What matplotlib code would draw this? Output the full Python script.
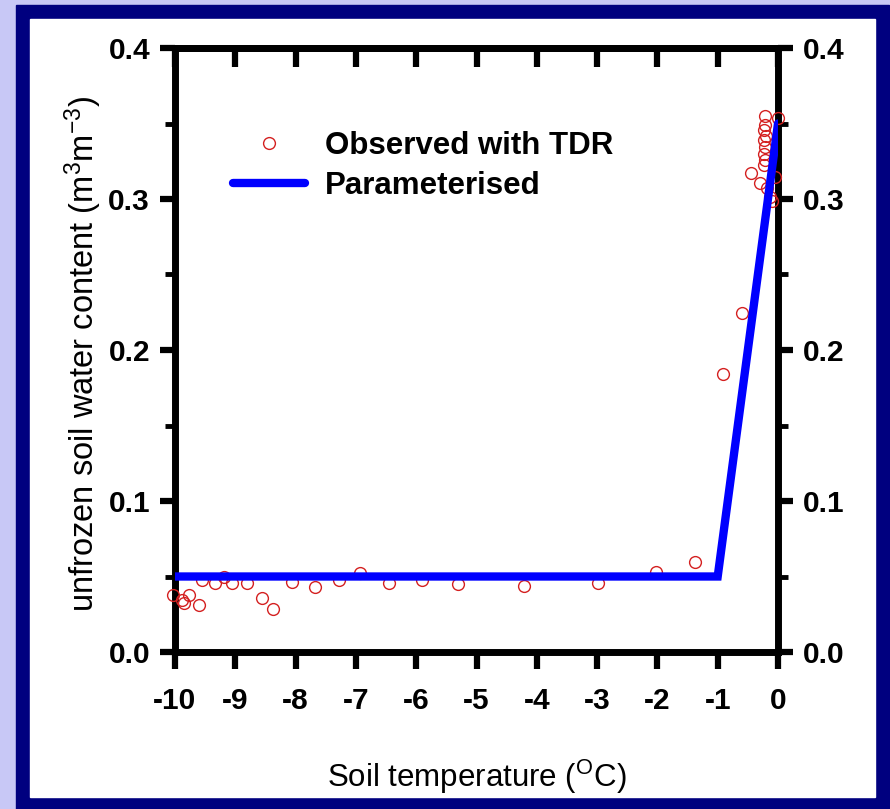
import numpy as np
import matplotlib.pyplot as plt
from matplotlib.patches import Rectangle
from matplotlib.ticker import MultipleLocator

plt.rcParams['font.family'] = ['Liberation Sans', 'DejaVu Sans']
plt.rcParams['axes.unicode_minus'] = False

# TDR observations (soil temperature degC, unfrozen water content m3/m3)
obs_t = [-10.03, -9.89, -9.85, -9.76, -9.61, -9.56, -9.34, -9.18, -9.06, -8.81,
         -8.56, -8.37, -8.06, -7.68, -7.28, -6.93, -6.45, -5.90, -5.31, -4.22,
         -2.98, -2.02, -1.38, -0.91, -0.59, -0.44, -0.22, -0.22, -0.24, -0.20,
         -0.24, -0.22, -0.23, -0.22, -0.24, -0.30, -0.18, -0.13, -0.105, -0.05,
         0.0]
obs_w = [0.0377, 0.0344, 0.0325, 0.0377, 0.031, 0.048, 0.0457, 0.0497, 0.0459, 0.0455,
         0.0356, 0.0283, 0.0461, 0.0432, 0.0477, 0.0521, 0.0455, 0.0477, 0.0448, 0.0439,
         0.0455, 0.0532, 0.0598, 0.1839, 0.2247, 0.3174, 0.355, 0.349, 0.3457, 0.342,
         0.339, 0.3347, 0.330, 0.326, 0.3225, 0.3104, 0.307, 0.3015, 0.299, 0.3147,
         0.3534]

# parameterised freezing curve
par_t = [-10, -1, 0]
par_w = [0.05, 0.05, 0.35]

fig = plt.figure(figsize=(8.9, 8.09), dpi=100)
fig.patch.set_facecolor('#c8c8f6')
fig.patches.append(Rectangle((16/890, 0), (889-16)/890, 1 - 5/809,
                             transform=fig.transFigure, color='#00007f', zorder=-2))
fig.patches.append(Rectangle((30/890, 12/809), (875-30)/890, (790-12)/809,
                             transform=fig.transFigure, color='white', zorder=-1))

ax = fig.add_axes([175/890, 1 - 652/809, (778-175)/890, (652-48)/809])
ax.set_facecolor('white')

ax.plot(obs_t, obs_w, 'o', mfc='none', mec='#d42020', mew=1.0, ms=8.5,
        clip_on=False, zorder=3, label='Observed with TDR')
ax.plot(par_t, par_w, '-', color='#0000ff', lw=6, solid_joinstyle='miter',
        solid_capstyle='round', zorder=4, label='Parameterised')

ax.set_xlim(-10, 0)
ax.set_ylim(0, 0.4)
ax.xaxis.set_major_locator(MultipleLocator(1))
ax.yaxis.set_major_locator(MultipleLocator(0.1))
ax.yaxis.set_minor_locator(MultipleLocator(0.05))
ax.set_yticklabels([f'{v:.1f}' for v in ax.get_yticks()])

for s in ax.spines.values():
    s.set_linewidth(5)

ax.tick_params(axis='x', direction='out', length=12, width=4.5, pad=13,
               labelsize=21.5, bottom=True, top=False)
ax.tick_params(axis='y', which='major', direction='out', length=11, width=4.5, pad=7,
               labelsize=21.5, left=True, right=True, labelleft=True, labelright=True)
ax.tick_params(axis='y', which='minor', direction='out', length=7, width=3.5,
               left=True, right=True)
for lab in ax.get_xticklabels() + ax.get_yticklabels():
    lab.set_fontweight('bold')

top = ax.secondary_xaxis('top')
top.xaxis.set_major_locator(MultipleLocator(1))
top.tick_params(direction='in', length=14, width=4.5, labeltop=False)
top.spines['top'].set_linewidth(5)

ax.set_xlabel('Soil temperature ($\\mathregular{^{O}}$C)', fontsize=22.5)
ax.xaxis.set_label_coords(0.5, -0.175)
ax.set_ylabel('unfrozen soil water content (m$\\mathregular{^{3}}$m$\\mathregular{^{-3}}$)',
              fontsize=23.5)
ax.yaxis.set_label_coords(-0.118, 0.494)

leg = ax.legend(loc='upper left', bbox_to_anchor=(0.096, 0.862), frameon=False,
                fontsize=22.5, handlelength=2.3, handletextpad=0.65, labelspacing=0.3,
                borderpad=0, borderaxespad=0)
for t in leg.get_texts():
    t.set_fontweight('bold')

fig.savefig('out.png', dpi=100, facecolor=fig.get_facecolor())
